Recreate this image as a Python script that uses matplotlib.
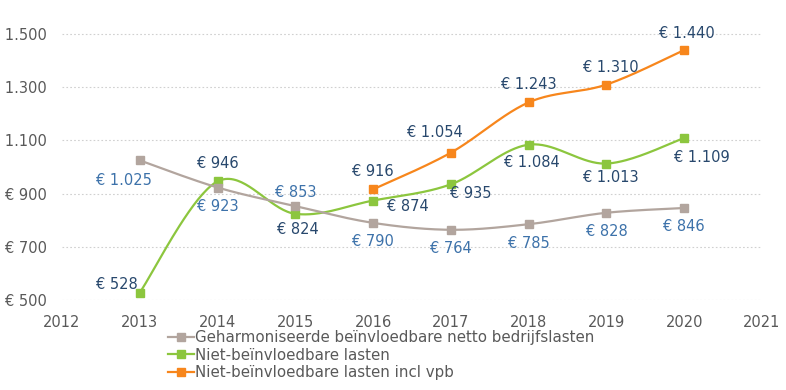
import numpy as np
import matplotlib
matplotlib.use("Agg")
import matplotlib.pyplot as plt

# data
years = [2013, 2014, 2015, 2016, 2017, 2018, 2019, 2020]
geharmoniseerd = [1025, 923, 853, 790, 764, 785, 828, 846]
niet_beinvl = [528, 946, 824, 874, 935, 1084, 1013, 1109]
years_vpb = [2016, 2017, 2018, 2019, 2020]
niet_beinvl_vpb = [916, 1054, 1243, 1310, 1440]

series_names = [
    "Geharmoniseerde beïnvloedbare netto bedrijfslasten",
    "Niet-beïnvloedbare lasten",
    "Niet-beïnvloedbare lasten incl vpb",
]
ytick_vals = [500, 700, 900, 1100, 1300, 1500]
xtick_vals = list(range(2012, 2022))

# label offsets in pixels (style only)
off_gray = [(-16, -20), (0, -19), (0, 14), (0, -19), (0, -19), (0, -19), (0, -19), (0, -19)]
off_green = [(-23, 8), (0, 18), (3, -16), (35, -6), (20, -9), (3, -18), (4, -14), (18, -19)]
off_orange = [(0, 18), (-16, 20), (0, 18), (4, 17), (3, 17)]

GRAY = "#b2a59e"
GREEN = "#8cc63e"
ORANGE = "#f7861c"
LABEL_LIGHT = "#3d72aa"
LABEL_DARK = "#28486d"
TICK = "#595959"


def fmt(v):
    return "€ " + f"{v:,}".replace(",", ".")


def smooth(xs, ys, n=40):
    # Excel-like bezier smoothing through the points
    p = np.column_stack([xs, ys]).astype(float)
    out = []
    for i in range(len(p) - 1):
        p0 = p[i - 1] if i > 0 else p[i]
        p3 = p[i + 2] if i + 2 < len(p) else p[i + 1]
        c1 = p[i] + (p[i + 1] - p0) / 6
        c2 = p[i + 1] - (p3 - p[i]) / 6
        t = np.linspace(0, 1, n)[:, None]
        seg = ((1 - t) ** 3) * p[i] + 3 * ((1 - t) ** 2) * t * c1 + 3 * (1 - t) * t ** 2 * c2 + t ** 3 * p[i + 1]
        out.append(seg if i == 0 else seg[1:])
    out = np.vstack(out)
    return out[:, 0], out[:, 1]


plt.rcParams["font.family"] = ["DejaVu Sans"]
fig = plt.figure(figsize=(7.86, 3.90), dpi=100)
ax = fig.add_axes([62 / 786, 90 / 390, 700 / 786, 300 / 390])

for xs, ys, col, offs, name, lc in [
    (years, niet_beinvl, GREEN, off_green, series_names[1], LABEL_DARK),
    (years, geharmoniseerd, GRAY, off_gray, series_names[0], LABEL_LIGHT),
    (years_vpb, niet_beinvl_vpb, ORANGE, off_orange, series_names[2], LABEL_DARK),
]:
    sx, sy = smooth(xs, ys)
    ax.plot(sx, sy, color=col, lw=1.6, zorder=3)
    ax.plot(xs, ys, ls="none", marker="s", ms=6, color=col, zorder=4)
    for x, y, (dx, dy) in zip(xs, ys, offs):
        ax.annotate(fmt(y), (x, y), xytext=(dx, dy), textcoords="offset pixels",
                    ha="center", va="center", fontsize=10.5, color=lc, zorder=5)

# legend handles in original order
for col, name in zip([GRAY, GREEN, ORANGE], series_names):
    ax.plot([], [], color=col, lw=1.6, marker="s", ms=6, label=name)

ax.set_xlim(2012, 2021)
ax.set_ylim(500, 1628)
ax.set_yticks(ytick_vals)
ax.set_yticklabels([fmt(v) for v in ytick_vals])
ax.set_xticks(xtick_vals)
ax.set_xticklabels([str(x) for x in xtick_vals])
ax.tick_params(length=0, labelsize=10.5, colors=TICK)
ax.tick_params(axis="y", pad=11)
ax.tick_params(axis="x", pad=11)
for s in ax.spines.values():
    s.set_visible(False)
ax.grid(axis="y", ls=(0, (1.5, 2)), color="#d0d0d0", lw=0.8, zorder=0)
ax.set_axisbelow(True)

leg = fig.legend(loc="upper left", bbox_to_anchor=(168 / 786, 1 - 330 / 390), frameon=False,
                 fontsize=10.8, handlelength=1.7, handletextpad=0.1, labelspacing=0.18,
                 borderaxespad=0, borderpad=0)
for t in leg.get_texts():
    t.set_color(TICK)

fig.savefig("out.png", dpi=100)
